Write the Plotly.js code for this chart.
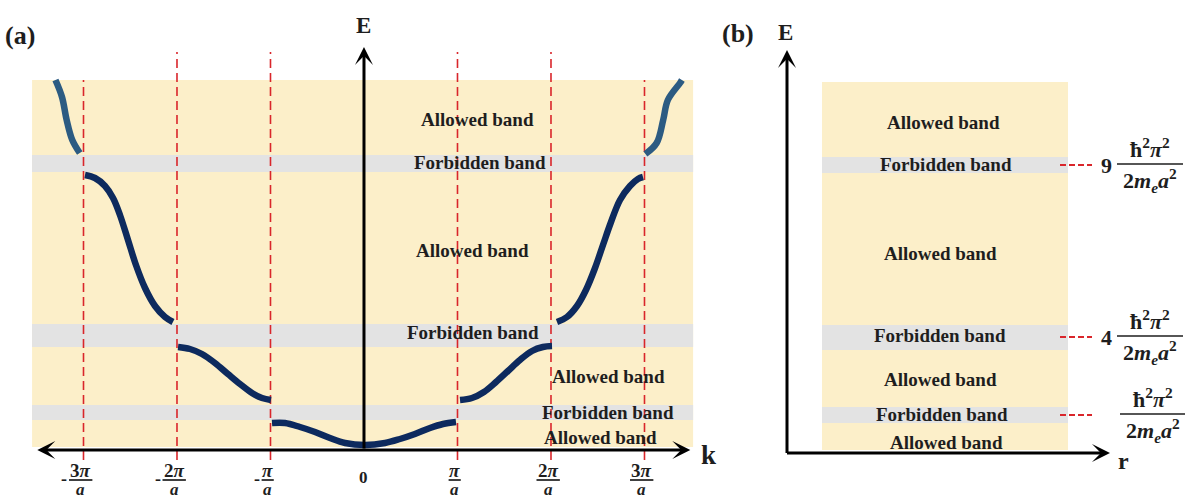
<!DOCTYPE html>
<html><head><meta charset="utf-8">
<script src="https://cdn.plot.ly/plotly-3.0.1.min.js"></script>
<style>html,body{margin:0;padding:0;background:#fff}#chart{width:1185px;height:499px}</style>
</head><body><div id="chart"></div>
<script>
// ---------- data (k in units of pi/a, E in arbitrary units) ----------
const kBoundaries = [-3, -2, -1, 1, 2, 3];
const kLineTops   = [3.70, 3.98, 3.98, 3.98, 3.98, 3.70];
const kTickNumer  = ['3<i>π</i>', '2<i>π</i>', '<i>π</i>', '<i>π</i>', '2<i>π</i>', '3<i>π</i>'];
const kTickSign   = ['-', '-', '-', '', '', ''];

// panel (a) bands
const gapLowA  = [0.30, 1.03, 2.78];
const gapHighA = [0.45, 1.26, 2.95];
const bandTopA = 3.70, bandBottomA = 0.03;
const bandKLeftA = -3.55, bandKRightA = 3.52;

// band curves E(k)
const band1K = [-0.984, -0.845, -0.684, -0.524, -0.364, -0.203, 0.011, 0.225, 0.385, 0.545, 0.706, 0.845, 0.984];
const band1E = [0.27, 0.27, 0.23, 0.18, 0.12, 0.07, 0.05, 0.07, 0.11, 0.16, 0.22, 0.26, 0.28];
const band2LK = [-1.989, -1.861, -1.733, -1.594, -1.455, -1.326, -1.198, -1.091, -0.995];
const band2LE = [1.03, 1.01, 0.96, 0.87, 0.76, 0.66, 0.57, 0.52, 0.50];
const band2RK = [1.027, 1.155, 1.283, 1.412, 1.540, 1.668, 1.797, 1.914, 2.011];
const band2RE = [0.50, 0.52, 0.58, 0.68, 0.79, 0.90, 0.99, 1.03, 1.04];
const band3LK = [-2.984, -2.877, -2.770, -2.684, -2.610, -2.524, -2.439, -2.342, -2.235, -2.128, -2.043];
const band3LE = [2.75, 2.72, 2.64, 2.52, 2.35, 2.10, 1.85, 1.62, 1.44, 1.33, 1.28];
const band3RK = [2.064, 2.171, 2.278, 2.374, 2.471, 2.556, 2.642, 2.738, 2.845, 2.930, 2.984];
const band3RE = [1.28, 1.33, 1.44, 1.60, 1.82, 2.05, 2.28, 2.50, 2.64, 2.71, 2.73];
const band4LK = [-3.30, -3.23, -3.18, -3.12, -3.04];
const band4LE = [3.70, 3.53, 3.30, 3.10, 2.97];
const band4RK = [3.01, 3.13, 3.20, 3.25, 3.38, 3.40];
const band4RE = [2.96, 3.07, 3.30, 3.50, 3.67, 3.70];

const bandLabels  = ['Allowed band', 'Forbidden band', 'Allowed band', 'Forbidden band', 'Allowed band', 'Forbidden band', 'Allowed band'];
const bandLabelKA = [1.21, 1.24, 1.16, 1.17, 2.61, 2.61, 2.53];
const bandLabelEA = [3.31, 2.88, 2.00, 1.18, 0.74, 0.38, 0.13];

// panel (b)
const gapLowB  = [0.27, 1.00, 2.77];
const gapHighB = [0.43, 1.25, 2.93];
const bandTopB = 3.68, bandBottomB = 0.00;
const bandRLeftB = 0.87, bandRRightB = 3.33;
const bandLabelRB = [2.08, 2.11, 2.05, 2.05, 2.05, 2.07, 2.11];
const bandLabelEB = [3.28, 2.86, 1.97, 1.15, 0.71, 0.36, 0.08];
const levelE      = [0.35, 1.13, 2.85];
const levelCoef   = ['', '4', '9'];

// ---------- styling ----------
const BEIGE = '#fcefc9', GRAY = '#e3e3e3', NAVY = '#0d2a5e', STEEL = '#2c5b82', RED = '#d9262b';
const SERIF = 'Liberation Serif, Times New Roman, serif';
const INK = '#1e1e1e';
const W = 1185, split = 735 / W;

const traces = [];
function curve(k, e, color) {
  traces.push({x: k, y: e, xaxis: 'x', yaxis: 'y', mode: 'lines', hoverinfo: 'skip',
    line: {color: color, width: 6.5, shape: 'spline', smoothing: 1}});
}
curve(band1K, band1E, NAVY);
curve(band2LK, band2LE, NAVY);
curve(band2RK, band2RE, NAVY);
curve(band3LK, band3LE, NAVY);
curve(band3RK, band3RE, NAVY);
curve(band4LK, band4LE, STEEL);
curve(band4RK, band4RE, STEEL);

// panel (b) energy-level dashes
levelE.forEach(e => {
  traces.push({x: [3.25, 3.57], y: [e, e], xaxis: 'x2', yaxis: 'y2', mode: 'lines', hoverinfo: 'skip',
    line: {color: RED, width: 2, dash: '6px,3px'}});
});

const shapes = [];
shapes.push({type: 'rect', xref: 'x', yref: 'y', x0: bandKLeftA, x1: bandKRightA, y0: bandBottomA, y1: bandTopA,
  fillcolor: BEIGE, line: {width: 0}, layer: 'below'});
gapLowA.forEach((lo, i) => shapes.push({type: 'rect', xref: 'x', yref: 'y', x0: bandKLeftA, x1: bandKRightA,
  y0: lo, y1: gapHighA[i], fillcolor: GRAY, line: {width: 0}, layer: 'below'}));
shapes.push({type: 'rect', xref: 'x2', yref: 'y2', x0: bandRLeftB, x1: bandRRightB, y0: bandBottomB, y1: bandTopB,
  fillcolor: BEIGE, line: {width: 0}, layer: 'below'});
gapLowB.forEach((lo, i) => shapes.push({type: 'rect', xref: 'x2', yref: 'y2', x0: bandRLeftB, x1: bandRRightB,
  y0: lo, y1: gapHighB[i], fillcolor: GRAY, line: {width: 0}, layer: 'below'}));
kBoundaries.forEach((k, i) => shapes.push({type: 'line', xref: 'x', yref: 'y', x0: k, x1: k, y0: -0.10, y1: kLineTops[i],
  line: {color: RED, width: 1.6, dash: '9px,5px'}, layer: 'below'}));

const annotations = [];
const axArrow = {text: '', showarrow: true, arrowhead: 3, arrowsize: 1, arrowwidth: 3, arrowcolor: '#000', standoff: 0, startstandoff: 0};
annotations.push(Object.assign({}, axArrow, {xref: 'x', yref: 'y', axref: 'x', ayref: 'y', x: 0, y: 4.03, ax: 0, ay: 0.0}));
annotations.push(Object.assign({}, axArrow, {xref: 'x', yref: 'y', axref: 'x', ayref: 'y', x: 3.49, y: 0, ax: -3.51, ay: 0, arrowside: 'end+start'}));
annotations.push(Object.assign({}, axArrow, {xref: 'x2', yref: 'y2', axref: 'x2', ayref: 'y2', x: 0.52, y: 4.0, ax: 0.52, ay: -0.045}));
annotations.push(Object.assign({}, axArrow, {xref: 'x2', yref: 'y2', axref: 'x2', ayref: 'y2', x: 3.75, y: -0.03, ax: 0.505, ay: -0.03}));

function txt(xref, yref, x, y, text, size, extra) {
  annotations.push(Object.assign({xref: xref, yref: yref, x: x, y: y, text: text, showarrow: false,
    xanchor: 'center', yanchor: 'middle', font: {family: SERIF, size: size, color: INK}}, extra || {}));
}
bandLabels.forEach((t, i) => txt('x', 'y', bandLabelKA[i], bandLabelEA[i], '<b>' + t + '</b>', 19));
bandLabels.forEach((t, i) => txt('x2', 'y2', bandLabelRB[i], bandLabelEB[i], '<b>' + t + '</b>', 19));

txt('paper', 'paper', 20 / W, 1 - 36 / 499, '<b>(a)</b>', 26);
txt('paper', 'paper', 738 / W, 1 - 34 / 499, '<b>(b)</b>', 26);
txt('x', 'y', 0, (450 - 25) / 100, '<b>E</b>', 23);
txt('x', 'y', 3.68, -0.05, '<b>k</b>', 27);
txt('x2', 'y2', 0.50, (450 - 32) / 100, '<b>E</b>', 23);
txt('x2', 'y2', 3.88, -0.11, '<b>r</b>', 24);

kBoundaries.forEach((k, i) => {
  const half = kTickNumer[i] === '<i>π</i>' ? 0.065 : 0.125;
  const c = k - 0.03;
  txt('x', 'y', c, -0.20, '<b>' + kTickNumer[i] + '</b>', 19);
  shapes.push({type: 'line', xref: 'x', yref: 'y', x0: c - half, x1: c + half, y0: -0.30, y1: -0.30, line: {color: INK, width: 1.7}});
  txt('x', 'y', c, -0.39, '<b><i>a</i></b>', 17);
  if (kTickSign[i]) txt('x', 'y', c - half + 0.005, -0.285, '<b>' + kTickSign[i] + '</b>', 18, {xanchor: 'right'});
});
txt('x', 'y', 0, -0.27, '<b>0</b>', 17);

const fracNum = '<b>ħ<sup>2</sup><i>π</i><sup>2</sup></b>';
const fracDen = '<b>2<i>m</i><sub><i>e</i></sub><i>a</i><sup>2</sup></b>';
levelE.forEach((e, i) => {
  const cx = levelCoef[i] ? 4.15 : 4.18;
  txt('x2', 'y2', cx, e + 0.17, fracNum, 22);
  shapes.push({type: 'line', xref: 'x2', yref: 'y2', x0: cx - 0.33, x1: cx + 0.33, y0: e + 0.01, y1: e + 0.01, line: {color: INK, width: 1.7}});
  txt('x2', 'y2', cx, e - 0.15, fracDen, 22);
  if (levelCoef[i]) txt('x2', 'y2', cx - 0.44, e, '<b>' + levelCoef[i] + '</b>', 22);
});

const layout = {
  width: 1185, height: 499,
  margin: {l: 0, r: 0, t: 0, b: 0},
  paper_bgcolor: '#ffffff', plot_bgcolor: 'rgba(0,0,0,0)',
  showlegend: false,
  xaxis: {domain: [0, split], range: [-3.893, 3.968], visible: false, fixedrange: true},
  yaxis: {domain: [0, 1], range: [-0.49, 4.5], visible: false, fixedrange: true},
  xaxis2: {domain: [split, 1], range: [0, 4.5], visible: false, fixedrange: true, anchor: 'y2'},
  yaxis2: {domain: [0, 1], range: [-0.49, 4.5], visible: false, fixedrange: true, anchor: 'x2'},
  shapes: shapes, annotations: annotations
};
Plotly.newPlot('chart', traces, layout, {displayModeBar: false, staticPlot: true});
</script></body></html>
